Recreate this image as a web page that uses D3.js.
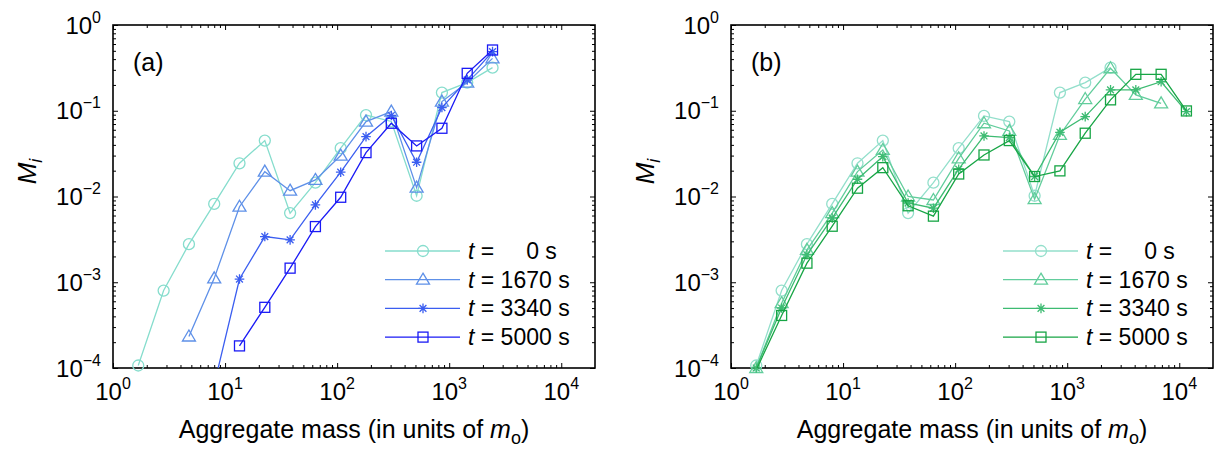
<!DOCTYPE html>
<meta charset="utf-8">
<style>
body { margin: 0; background: #fff; }
text { font-family: "Liberation Sans", Arial, Helvetica, sans-serif; fill: #000; }
.line { fill: none; stroke-width: 1.3px; }
.mark { fill: none; stroke-width: 1.3px; }
.tick line { stroke: #000; stroke-width: 1px; }
</style>
<body>
<script src="https://d3js.org/d3.v7.min.js"></script>
<script>

// aggregate mass bins (units of m_o)
var masses = [1.68, 2.83, 4.76, 8, 13.45, 22.63, 38.05, 64, 107.6, 181.0,
              304.4, 512, 861.1, 1448, 2436, 4096, 6889, 11585];

// legend labels
var times = ["0", "1670", "3340", "5000"];

// panel (a)
var a_t0    = [1.07e-4, 8.0e-4, 2.78e-3, 8.2e-3, 0.0244, 0.0449, 6.4e-3, 0.0145, 0.0366, 0.089,
               0.075, 0.0102, 0.163, 0.213, 0.318, null, null, null];
var a_t1670 = [null, null, 2.33e-4, 1.11e-3, 7.6e-3, 0.0195, 0.0117, 0.0156, 0.030, 0.0747,
               0.0977, 0.0127, 0.128, 0.213, 0.408, null, null, null];
var a_t3340 = [null, null, null, 6.4e-5, 1.09e-3, 3.41e-3, 3.12e-3, 7.98e-3, 0.0192, 0.0499,
               0.088, 0.0251, 0.109, 0.229, 0.489, null, null, null];
var a_t5000 = [null, null, null, null, 1.81e-4, 5.1e-4, 1.46e-3, 4.46e-3, 9.8e-3, 0.0325,
               0.0715, 0.0389, 0.0625, 0.273, 0.511, null, null, null];

// panel (b)
var b_t0    = [1.07e-4, 8.0e-4, 2.78e-3, 8.2e-3, 0.0244, 0.0449, 6.4e-3, 0.0145, 0.0366, 0.087,
               0.0747, 0.0102, 0.163, 0.213, 0.318, null, null, null];
var b_t1670 = [1.0e-4, 5.7e-4, 2.39e-3, 6.4e-3, 0.0195, 0.0349, 0.0100, 0.0091, 0.0279, 0.0715,
               0.0582, 9.3e-3, 0.0522, 0.137, 0.313, 0.153, 0.122, null];
var b_t3340 = [1.0e-4, 5.0e-4, 2.09e-3, 5.6e-3, 0.0159, 0.0292, 8.4e-3, 7.3e-3, 0.0208, 0.0508,
               0.0486, 0.0171, 0.0561, 0.0855, 0.175, 0.175, 0.218, 0.0977];
var b_t5000 = [9.5e-5, 4.1e-4, 1.67e-3, 4.5e-3, 0.0125, 0.0217, 7.8e-3, 5.9e-3, 0.0183, 0.0305,
               0.0449, 0.0171, 0.0199, 0.0547, 0.134, 0.266, 0.266, 0.0995];

var xMajor = [1, 10, 100, 1000, 10000];
var xExp   = ["0", "1", "2", "3", "4"];
var yMajor = [1e-4, 1e-3, 1e-2, 1e-1, 1];
var yExp   = ["\u22124", "\u22123", "\u22122", "\u22121", "0"];

var colorsA = ["#86ddcd", "#5e90e8", "#3b5ef0", "#1a1af5"];
var colorsB = ["#93dfcb", "#62cd9c", "#3dbb72", "#17a545"];
var shapes = ["circle", "triangle", "star", "square"];

var width = 482, height = 343;

var svg = d3.select("body").append("svg")
    .attr("width", 1215)
    .attr("height", 450);

var x = d3.scaleLog().domain([1, 2e4]).range([0, width]);
var y = d3.scaleLog().domain([1e-4, 1]).range([height, 0]);

// minor ticks 2..9 in each decade
function minors(lo, hi) {
  var out = [];
  for (var e = lo; e < hi; e++) {
    for (var k = 2; k <= 9; k++) out.push(k * Math.pow(10, e));
  }
  return out;
}
var xMinor = minors(0, 5).filter(function(v) { return v < 2e4; });
var yMinor = minors(-4, 0);

function drawMarker(g, shape, color) {
  if (shape == "circle") {
    g.append("circle").attr("class", "mark").attr("r", 5.5).style("stroke", color);
  } else if (shape == "triangle") {
    g.append("path").attr("class", "mark").attr("d", "M0,-6.5L6.5,4.5L-6.5,4.5Z").style("stroke", color);
  } else if (shape == "square") {
    g.append("rect").attr("class", "mark").attr("x", -5).attr("y", -5)
      .attr("width", 10).attr("height", 10).style("stroke", color);
  } else {
    g.append("path").attr("class", "mark")
      .attr("d", "M0,-4.8V4.8M-4.8,0H4.8M-3.4,-3.4L3.4,3.4M-3.4,3.4L3.4,-3.4")
      .style("stroke", color);
  }
}

function panel(left, series, colors, tag, id) {
  var g = svg.append("g").attr("transform", "translate(" + left + ",25)");

  g.append("clipPath").attr("id", "clip" + id)
    .append("rect").attr("width", width).attr("height", height);

  // ticks on all four sides, pointing inward
  function ticks(axis, vals, size, tr) {
    g.append("g").attr("transform", tr)
      .call(axis.tickValues(vals).tickSize(size).tickFormat(""))
      .call(function(s) { s.select(".domain").remove(); });
  }
  ticks(d3.axisBottom(x), xMajor, -5, "translate(0," + height + ")");
  ticks(d3.axisBottom(x), xMinor, -3, "translate(0," + height + ")");
  ticks(d3.axisTop(x), xMajor, -5, "translate(0,0)");
  ticks(d3.axisTop(x), xMinor, -3, "translate(0,0)");
  ticks(d3.axisLeft(y), yMajor, -5, "translate(0,0)");
  ticks(d3.axisLeft(y), yMinor, -3, "translate(0,0)");
  ticks(d3.axisRight(y), yMajor, -5, "translate(" + width + ",0)");
  ticks(d3.axisRight(y), yMinor, -3, "translate(" + width + ",0)");

  g.append("rect").attr("width", width).attr("height", height)
    .style("fill", "none").style("stroke", "#000").style("stroke-width", 1.6);

  // tick labels
  xMajor.forEach(function(v, i) {
    var t = g.append("text").attr("x", x(v)).attr("y", height + 32)
      .attr("text-anchor", "middle").style("font-size", "24px");
    t.append("tspan").text("10");
    t.append("tspan").attr("dy", -11).style("font-size", "16px").text(xExp[i]);
  });
  yMajor.forEach(function(v, i) {
    var t = g.append("text").attr("x", -12).attr("y", y(v) + 8.5)
      .attr("text-anchor", "end").style("font-size", "24px");
    t.append("tspan").text("10");
    t.append("tspan").attr("dy", -11).style("font-size", "16px").text(yExp[i]);
  });

  // axis labels
  var xl = g.append("text").attr("x", width / 2).attr("y", height + 70)
    .attr("text-anchor", "middle").style("font-size", "25px");
  xl.append("tspan").text("Aggregate mass (in units of ");
  xl.append("tspan").style("font-style", "italic").text("m");
  xl.append("tspan").attr("dy", 6).style("font-size", "18px").text("o");
  xl.append("tspan").attr("dy", -6).text(")");

  var yl = g.append("text").attr("transform", "translate(-77," + (height / 2 - 25) + ") rotate(-90)")
    .attr("text-anchor", "middle").style("font-size", "26px");
  yl.append("tspan").style("font-style", "italic").text("M");
  yl.append("tspan").attr("dy", 6).style("font-size", "18px").style("font-style", "italic").text("i");

  g.append("text").attr("x", 20).attr("y", 46).style("font-size", "25px").text(tag);

  // data
  var line = d3.line()
    .defined(function(d) { return d.v != null; })
    .x(function(d) { return x(d.m); })
    .y(function(d) { return y(d.v); });

  series.forEach(function(s, j) {
    var pts = masses.map(function(m, i) { return {m: m, v: s[i]}; });
    g.append("path").datum(pts)
      .attr("class", "line")
      .attr("clip-path", "url(#clip" + id + ")")
      .style("stroke", colors[j])
      .attr("d", line);
    pts.filter(function(d) { return d.v != null && d.v >= 1e-4; }).forEach(function(d) {
      var mg = g.append("g").attr("transform", "translate(" + x(d.m) + "," + y(d.v) + ")");
      drawMarker(mg, shapes[j], colors[j]);
    });
  });

  // legend
  times.forEach(function(tm, j) {
    var ly = 226 + j * 28.7;
    g.append("line").attr("x1", 272).attr("x2", 347).attr("y1", ly).attr("y2", ly)
      .style("stroke", colors[j]).style("stroke-width", 1.3);
    var mg = g.append("g").attr("transform", "translate(310," + ly + ")");
    drawMarker(mg, shapes[j], colors[j]);
    var t = g.append("text").attr("x", 355).attr("y", ly + 8)
      .style("font-size", "23px").style("white-space", "pre");
    t.append("tspan").style("font-style", "italic").text("t");
    t.append("tspan").text(tm == "0" ? " =     0 s" : " = " + tm + " s");
  });
}

panel(113, [a_t0, a_t1670, a_t3340, a_t5000], colorsA, "(a)", "a");
panel(731, [b_t0, b_t1670, b_t3340, b_t5000], colorsB, "(b)", "b");

</script>
</body>
